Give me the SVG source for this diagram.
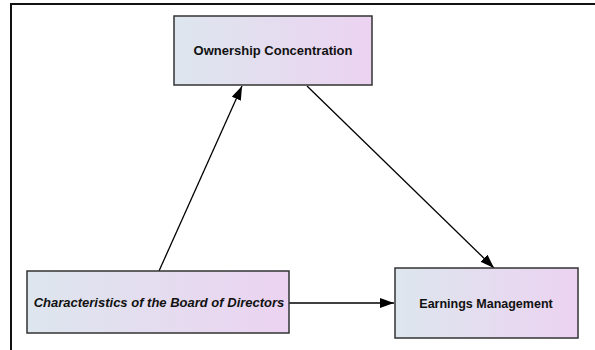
<svg xmlns="http://www.w3.org/2000/svg" width="595" height="350" viewBox="0 0 595 350">
  <defs>
    <linearGradient id="boxFill" x1="0" y1="0" x2="1" y2="0">
      <stop offset="0" stop-color="#dde6ee"/>
      <stop offset="1" stop-color="#ecd3f1"/>
    </linearGradient>
    <marker id="arrow" viewBox="0 0 14 10" refX="14" refY="5" markerWidth="14" markerHeight="10" markerUnits="userSpaceOnUse" orient="auto">
      <path d="M0,0 L14,5 L0,10 Z" fill="#000"/>
    </marker>
  </defs>
  <style>
    .frame { fill: none; stroke: #111; stroke-width: 2; }
    .box { fill: url(#boxFill); stroke: #333; stroke-width: 1.5; }
    .label { font-family: "Liberation Sans", Arial, sans-serif; font-size: 13px; font-weight: bold; fill: #111; text-anchor: middle; }
    .italic { font-style: italic; }
    .edge { stroke: #000; stroke-width: 1.3; fill: none; marker-end: url(#arrow); }
  </style>

  <rect width="595" height="350" fill="#fff"/>
  <!-- page frame: top and left rules -->
  <path class="frame" d="M11,350 L11,4 L595,4"/>

  <g id="connectors">
    <line class="edge" x1="159" y1="271" x2="242" y2="86"/>
    <line class="edge" x1="307" y1="86" x2="494" y2="268"/>
    <line class="edge" x1="289" y1="303" x2="394" y2="303"/>
  </g>

  <g id="ownership">
    <rect class="box" x="174" y="16" width="198" height="69"/>
    <text class="label" x="273" y="55">Ownership Concentration</text>
  </g>

  <g id="board">
    <rect class="box" x="27" y="271" width="262" height="62"/>
    <text class="label italic" x="159" y="307">Characteristics of the Board of Directors</text>
  </g>

  <g id="earnings">
    <rect class="box" x="395" y="268" width="183" height="70"/>
    <text class="label" x="486" y="308" style="font-size:12.5px">Earnings Management</text>
  </g>
</svg>
